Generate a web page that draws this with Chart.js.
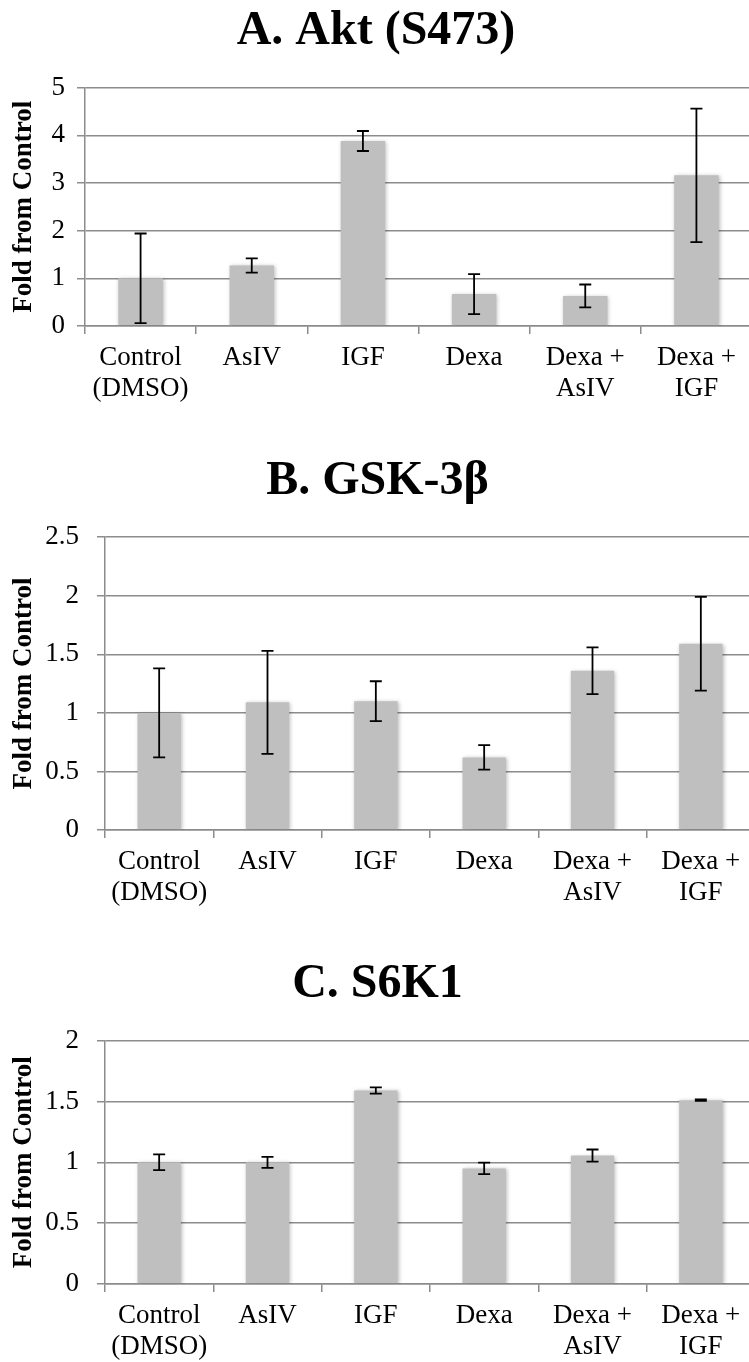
<!DOCTYPE html>
<html>
<head>
<meta charset="utf-8">
<script src="https://cdn.jsdelivr.net/npm/chart.js@4.4.1/dist/chart.umd.min.js"></script>
<style>
  body { margin: 0; background: #fff; }
  #page { position: relative; width: 749px; height: 1362px; overflow: hidden; background: #fff; }
  #page canvas { position: absolute; left: 0; }
</style>
</head>
<body>
<div id="page">
  <canvas id="chartA" width="756" height="406" style="top:0px"></canvas>
  <canvas id="chartB" width="756" height="495" style="top:415px"></canvas>
  <canvas id="chartC" width="756" height="449" style="top:915px"></canvas>
</div>
<script>
const categories = [["Control", "(DMSO)"], "AsIV", "IGF", "Dexa", ["Dexa +", "AsIV"], ["Dexa +", "IGF"]];

const aktValues = [1.0, 1.27, 3.88, 0.67, 0.63, 3.16];
const aktErrors = [0.94, 0.15, 0.21, 0.42, 0.24, 1.40];

const gskValues = [1.0, 1.09, 1.10, 0.62, 1.36, 1.59];
const gskErrors = [0.38, 0.44, 0.17, 0.105, 0.20, 0.40];

const s6kValues = [1.0, 1.0, 1.59, 0.95, 1.055, 1.51];
const s6kErrors = [0.065, 0.045, 0.025, 0.047, 0.05, 0.006];

const serif = "'Liberation Serif', 'Times New Roman', serif";
const gridColour = "#8c8c8c";

// soft shadow under the bars + black error bars on top
const errorBars = {
  id: "errorBars",
  beforeDatasetsDraw(chart) {
    const ctx = chart.ctx;
    ctx.save();
    ctx.shadowColor = "rgba(0,0,0,0.28)";
    ctx.shadowBlur = 4;
    ctx.shadowOffsetX = 1;
    ctx.shadowOffsetY = 1;
  },
  afterDatasetsDraw(chart, args, opts) {
    const ctx = chart.ctx;
    ctx.restore();
    const yScale = chart.scales.y;
    const meta = chart.getDatasetMeta(0);
    const values = chart.data.datasets[0].data;
    const errors = opts.errors || [];
    ctx.save();
    ctx.strokeStyle = "#000";
    ctx.lineWidth = 1.8;
    meta.data.forEach((bar, i) => {
      const e = errors[i];
      if (e == null) return;
      const top = yScale.getPixelForValue(values[i] + e);
      const bottom = yScale.getPixelForValue(values[i] - e);
      const x = bar.x;
      ctx.beginPath();
      ctx.moveTo(x, top);
      ctx.lineTo(x, bottom);
      ctx.moveTo(x - 6, top);
      ctx.lineTo(x + 6, top);
      ctx.moveTo(x - 6, bottom);
      ctx.lineTo(x + 6, bottom);
      ctx.stroke();
    });
    ctx.restore();
  },
};

function barChart(canvasId, title, values, errors, yMax, yStep, axisWidth, tickPad, topPad, rightPad) {
  return new Chart(document.getElementById(canvasId), {
    type: "bar",
    data: {
      labels: categories,
      datasets: [
        {
          data: values,
          backgroundColor: "#bfbfbf",
          borderWidth: 0,
          barPercentage: 0.4,
          categoryPercentage: 1.0,
        },
      ],
    },
    plugins: [errorBars],
    options: {
      responsive: false,
      animation: false,
      layout: { padding: { top: topPad, left: 0, right: rightPad, bottom: 0 } },
      plugins: {
        legend: { display: false },
        tooltip: { enabled: false },
        title: {
          display: true,
          text: title,
          color: "#000",
          font: { family: serif, size: 48, weight: "bold", lineHeight: 1.2 },
          padding: { top: 3, bottom: 27 },
        },
        errorBars: { errors: errors },
      },
      scales: {
        x: {
          grid: {
            drawOnChartArea: false,
            drawTicks: true,
            tickLength: 8,
            color: gridColour,
            lineWidth: 1.5,
          },
          border: { display: true, color: gridColour, width: 1.5 },
          ticks: {
            color: "#000",
            padding: 9,
            maxRotation: 0,
            autoSkip: false,
            font: { family: serif, size: 27, lineHeight: 1.13 },
          },
          afterFit(scale) {
            scale.height = 80;
          },
        },
        y: {
          min: 0,
          max: yMax,
          grid: {
            color: gridColour,
            lineWidth: 1.5,
            drawTicks: true,
            tickLength: 8,
          },
          border: { display: true, color: gridColour, width: 1.5 },
          ticks: {
            stepSize: yStep,
            color: "#000",
            padding: tickPad,
            font: { family: serif, size: 27 },
            callback: (value) => String(Math.round(value * 10) / 10),
          },
          title: {
            display: true,
            text: "Fold from Control",
            color: "#000",
            font: { family: serif, size: 27, weight: "bold", lineHeight: 1.2 },
            padding: { top: 8, bottom: 0 },
          },
          afterFit(scale) {
            scale.width = axisWidth;
          },
        },
      },
    },
  });
}

barChart("chartA", "A. Akt (S473)", aktValues, aktErrors, 5, 1, 85, 12, 0, 4);
barChart("chartB", "B. GSK-3β", gskValues, gskErrors, 2.5, 0.5, 105, 18, 34.6, 1);
barChart("chartC", "C. S6K1", s6kValues, s6kErrors, 2, 0.5, 105, 18, 38, 1);
</script>
</body>
</html>
